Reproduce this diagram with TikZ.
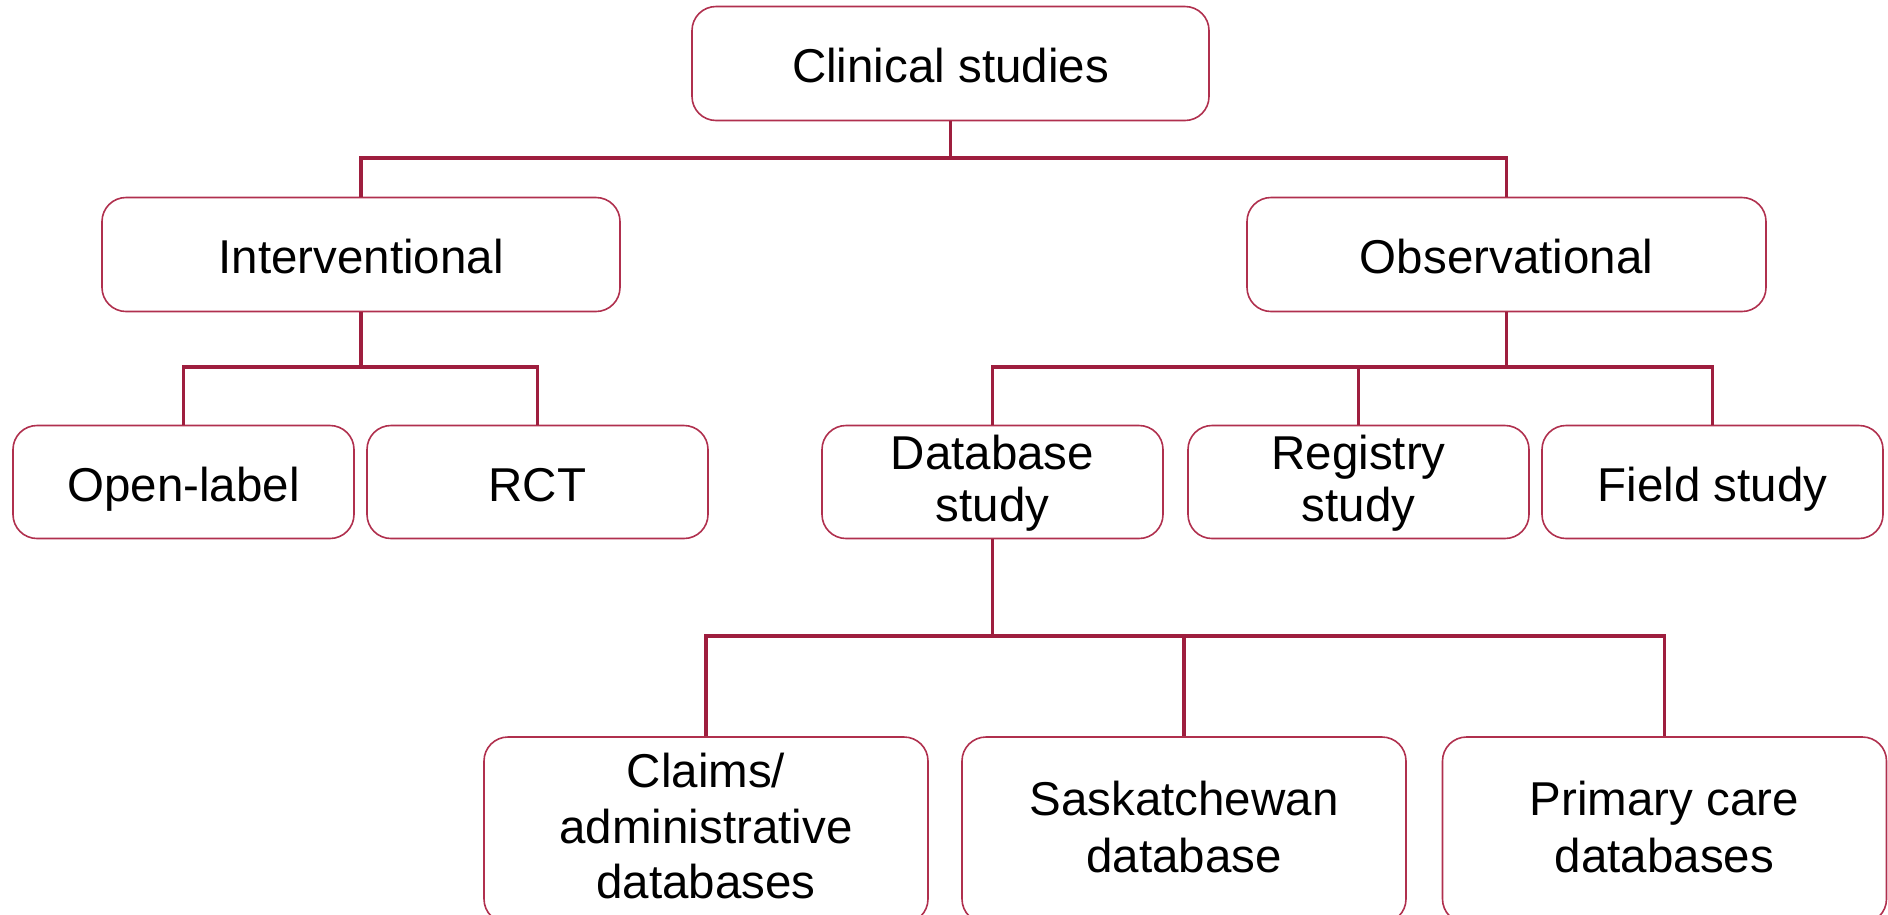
\documentclass[tikz,border=0pt]{standalone}
\usepackage{fontspec}
\setmainfont{Liberation Sans}
\definecolor{linecol}{RGB}{158,30,62}
\definecolor{boxcol}{RGB}{176,48,78}
\begin{document}
\begin{tikzpicture}[x=1pt,y=-1pt,
  box/.style={draw=boxcol,line width=1.6pt,rounded corners=24pt,fill=white,
    inner sep=0pt,font=\fontsize{47.5}{52}\selectfont},
  onel/.style={box,text height=42pt,text depth=4pt},
  twol/.style={box,text height=82pt,text depth=4pt},
  threel/.style={box,text height=139pt,text depth=2pt,font=\fontsize{47.5}{55.5}\selectfont},
  twob/.style={box,text height=87pt,text depth=3pt,font=\fontsize{47.5}{57}\selectfont},
  conn/.style={draw=linecol,line width=3.6pt}]
\useasboundingbox (0,0) rectangle (1888,914);
\node[onel,minimum width=517pt,minimum height=114pt] (cs) at (950.5,63.5) {Clinical studies};
\node[onel,minimum width=518pt,minimum height=114pt] (int) at (361,254.5) {Interventional};
\node[onel,minimum width=519pt,minimum height=114pt] (obs) at (1506.5,254.5) {Observational};
\node[onel,minimum width=341pt,minimum height=113pt] (ol) at (183.5,482) {Open-label};
\node[onel,minimum width=341pt,minimum height=113pt] (rct) at (537.5,482) {RCT};
\node[twol,minimum width=341pt,minimum height=113pt] (db) at (992.5,482) {\begin{tabular}[b]{@{}c@{}}Database\\study\end{tabular}};
\node[twol,minimum width=341pt,minimum height=113pt] (reg) at (1358.5,482) {\begin{tabular}[b]{@{}c@{}}Registry\\study\end{tabular}};
\node[onel,minimum width=341pt,minimum height=113pt] (fs) at (1712.5,482) {Field study};
\node[threel,minimum width=444pt,minimum height=186pt] (cl) at (706,830) {\begin{tabular}[b]{@{}c@{}}Claims/\\administrative\\databases\end{tabular}};
\node[twob,minimum width=444pt,minimum height=186pt] (sk) at (1184,830) {\begin{tabular}[b]{@{}c@{}}Saskatchewan\\database\end{tabular}};
\node[twob,minimum width=444pt,minimum height=186pt] (pc) at (1664.5,830) {\begin{tabular}[b]{@{}c@{}}Primary care\\databases\end{tabular}};
\coordinate (b1) at (950.5,158);
\coordinate (b2) at (361,367);
\coordinate (b3) at (1506.5,367);
\coordinate (b4) at (992.5,636);
\draw[conn] (cs.south) -- (b1);
\draw[conn] (int.north) |- (b1) -| (obs.north);
\draw[conn] (int.south) -- (b2);
\draw[conn] (ol.north) |- (b2) -| (rct.north);
\draw[conn] (obs.south) -- (b3);
\draw[conn] (db.north) |- (b3) -| (fs.north);
\draw[conn] (reg.north) -- (reg.north |- b3);
\draw[conn] (db.south) -- (b4);
\draw[conn] (cl.north) |- (b4) -| (pc.north);
\draw[conn] (sk.north) -- (sk.north |- b4);
\end{tikzpicture}
\end{document}
